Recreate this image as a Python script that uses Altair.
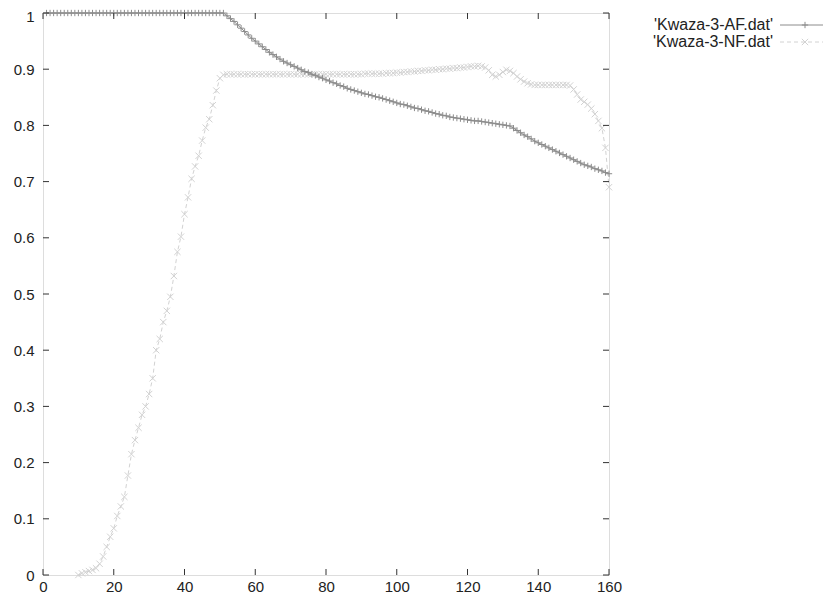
import altair as alt
import pandas as pd

# ---------------- data ----------------
AF_X_START = 1
af_y = [
    1.0, 1.0, 1.0, 1.0, 1.0, 1.0, 1.0, 1.0, 1.0, 1.0,
    1.0, 1.0, 1.0, 1.0, 1.0, 1.0, 1.0, 1.0, 1.0, 1.0,
    1.0, 1.0, 1.0, 1.0, 1.0, 1.0, 1.0, 1.0, 1.0, 1.0,
    1.0, 1.0, 1.0, 1.0, 1.0, 1.0, 1.0, 1.0, 1.0, 1.0,
    1.0, 1.0, 1.0, 1.0, 1.0, 1.0, 1.0, 1.0, 1.0, 1.0,
    1.000, 0.995, 0.990, 0.985, 0.979, 0.973, 0.967, 0.961, 0.955, 0.950,
    0.945, 0.940, 0.935, 0.930, 0.926, 0.922, 0.918, 0.914, 0.911, 0.908,
    0.905, 0.902, 0.899, 0.896, 0.894, 0.891, 0.889, 0.886, 0.884, 0.881,
    0.879, 0.876, 0.874, 0.871, 0.869, 0.866, 0.864, 0.862, 0.860, 0.858,
    0.856, 0.855, 0.853, 0.851, 0.850, 0.848, 0.846, 0.844, 0.842, 0.840,
    0.838, 0.837, 0.835, 0.833, 0.831, 0.830, 0.828, 0.826, 0.825, 0.823,
    0.821, 0.820, 0.818, 0.817, 0.815, 0.814, 0.813, 0.812, 0.811, 0.810,
    0.809, 0.808, 0.808, 0.807, 0.806, 0.805, 0.804, 0.803, 0.802, 0.801,
    0.800, 0.799, 0.795, 0.791, 0.787, 0.783, 0.780, 0.776, 0.772, 0.769,
    0.766, 0.763, 0.760, 0.757, 0.754, 0.751, 0.748, 0.745, 0.742, 0.739,
    0.736, 0.733, 0.730, 0.728, 0.726, 0.723, 0.721, 0.719, 0.716, 0.714,
]

NF_X_START = 10
nf_y = [
    0.000, 0.003, 0.005, 0.007, 0.009, 0.012, 0.020, 0.033, 0.050, 0.068,
    0.083, 0.105, 0.122, 0.139, 0.177, 0.215, 0.240, 0.262, 0.285, 0.300,
    0.322, 0.350, 0.400, 0.420, 0.450, 0.470, 0.495, 0.532, 0.575, 0.602,
    0.642, 0.672, 0.705, 0.727, 0.746, 0.773, 0.796, 0.811, 0.836, 0.862,
    0.884, 0.890, 0.891, 0.891, 0.891, 0.891, 0.891, 0.891, 0.891, 0.891,
    0.891, 0.891, 0.891, 0.891, 0.891, 0.891, 0.891, 0.891, 0.891, 0.891,
    0.891, 0.891, 0.891, 0.891, 0.891, 0.891, 0.891, 0.891, 0.891, 0.891,
    0.891, 0.891, 0.891, 0.891, 0.891, 0.891, 0.891, 0.891, 0.891, 0.891,
    0.891, 0.892, 0.892, 0.892, 0.892, 0.892, 0.892, 0.893, 0.893, 0.893,
    0.894, 0.894, 0.895, 0.895, 0.896, 0.896, 0.897, 0.897, 0.898, 0.898,
    0.899, 0.899, 0.900, 0.900, 0.901, 0.901, 0.902, 0.902, 0.903, 0.903,
    0.904, 0.905, 0.905, 0.906, 0.905, 0.903, 0.898, 0.890, 0.887, 0.890,
    0.895, 0.899, 0.897, 0.893, 0.887, 0.882, 0.878, 0.875, 0.873, 0.872,
    0.872, 0.872, 0.872, 0.872, 0.872, 0.872, 0.872, 0.872, 0.872, 0.871,
    0.864, 0.855, 0.846, 0.842, 0.837, 0.830, 0.820, 0.808, 0.795, 0.760,
    0.690,
]

x_ticks = [0, 20, 40, 60, 80, 100, 120, 140, 160]
y_ticks = [0.0, 0.1, 0.2, 0.3, 0.4, 0.5, 0.6, 0.7, 0.8, 0.9, 1.0]
legend_labels = ["'Kwaza-3-AF.dat'", "'Kwaza-3-NF.dat'"]

# ---------------- styling ----------------
W, H = 566, 562
FONT = "Liberation Sans"
FS = 15
LEG_FS = 16
TXT = "#222222"
AF_COL = "#8c8c8c"
NF_COL = "#d2d2d2"
PLUS = "M-1,0L1,0M0,-1L0,1"
CROSS = "M-1,-1L1,1M-1,1L1,-1"
TICK = 6

af = pd.DataFrame({"x": list(range(AF_X_START, AF_X_START + len(af_y))), "y": af_y})
nf = pd.DataFrame({"x": list(range(NF_X_START, NF_X_START + len(nf_y))), "y": nf_y})

xs = alt.Scale(domain=[0, 160], nice=False, zero=False)
ys = alt.Scale(domain=[0, 1], nice=False, zero=False)


def X(field):
    return alt.X(field, type="quantitative", scale=xs, title=None,
                 axis=alt.Axis(values=x_ticks, format="d", domain=False, ticks=False,
                               grid=False, labelFont=FONT, labelFontSize=FS,
                               labelColor=TXT, labelPadding=4, labelFlush=False))


def Y(field):
    return alt.Y(field, type="quantitative", scale=ys, title=None,
                 axis=alt.Axis(values=y_ticks, format=".1~f", domain=False, ticks=False,
                               grid=False, labelFont=FONT, labelFontSize=FS,
                               labelColor=TXT, labelPadding=9, labelFlush=False,
                               labelOffset={"condition": {"test": "datum.value == 1",
                                                          "value": 3},
                                            "value": 0}))


af_line = alt.Chart(af).mark_line(color=AF_COL, strokeWidth=1).encode(x=X("x"), y=Y("y"))
af_pts = alt.Chart(af).mark_point(shape=PLUS, filled=False, size=40, color=AF_COL,
                                  strokeWidth=1, opacity=1).encode(x=X("x"), y=Y("y"))
nf_line = alt.Chart(nf).mark_line(color=NF_COL, strokeWidth=1, strokeDash=[4, 3]).encode(
    x=X("x"), y=Y("y"))
nf_pts = alt.Chart(nf).mark_point(shape=CROSS, filled=False, size=40, color=NF_COL,
                                  strokeWidth=1, opacity=1).encode(x=X("x"), y=Y("y"))

# inward (mirrored) tick marks, gnuplot style
xt = pd.DataFrame({"t": x_ticks})
yt = pd.DataFrame({"t": y_ticks})
tick_b = alt.Chart(xt).mark_rule(color="#333333", strokeWidth=1).encode(
    x=X("t"), y=alt.value(H), y2=alt.value(H - TICK))
tick_t = alt.Chart(xt).mark_rule(color="#333333", strokeWidth=1).encode(
    x=X("t"), y=alt.value(0), y2=alt.value(TICK))
tick_l = alt.Chart(yt).mark_rule(color="#333333", strokeWidth=1).encode(
    y=Y("t"), x=alt.value(0), x2=alt.value(TICK))
tick_r = alt.Chart(yt).mark_rule(color="#333333", strokeWidth=1).encode(
    y=Y("t"), x=alt.value(W), x2=alt.value(W - TICK))

# key (outside, top right)
legend_layers = []
styles = [(AF_COL, PLUS, None), (NF_COL, CROSS, [4, 3])]
for i, (lab, (col, shp, dash)) in enumerate(zip(legend_labels, styles)):
    ld = pd.DataFrame({"label": [lab]})
    yy = 12 + 17 * i
    legend_layers.append(
        alt.Chart(ld).mark_text(align="right", baseline="middle", font=FONT,
                                fontSize=LEG_FS, color=TXT).encode(
            x=alt.value(730), y=alt.value(yy), text="label:N"))
    rule_kw = dict(color=col, strokeWidth=1)
    if dash:
        rule_kw["strokeDash"] = dash
    legend_layers.append(
        alt.Chart(ld).mark_rule(**rule_kw).encode(
            x=alt.value(737), x2=alt.value(780), y=alt.value(yy)))
    legend_layers.append(
        alt.Chart(ld).mark_point(shape=shp, filled=False, size=40, color=col,
                                 strokeWidth=1, opacity=1).encode(
            x=alt.value(762), y=alt.value(yy)))

chart = alt.layer(
    nf_line, nf_pts, af_line, af_pts, tick_b, tick_t, tick_l, tick_r, *legend_layers
).properties(
    width=W, height=H,
    autosize=alt.AutoSizeParams(type="none"),
    padding={"left": 35, "top": 5, "right": 214, "bottom": 20},
).configure_view(
    stroke="#222222", strokeWidth=1
).configure(background="white")

chart.save("out.html", embed_options={"renderer": "svg", "actions": False})
